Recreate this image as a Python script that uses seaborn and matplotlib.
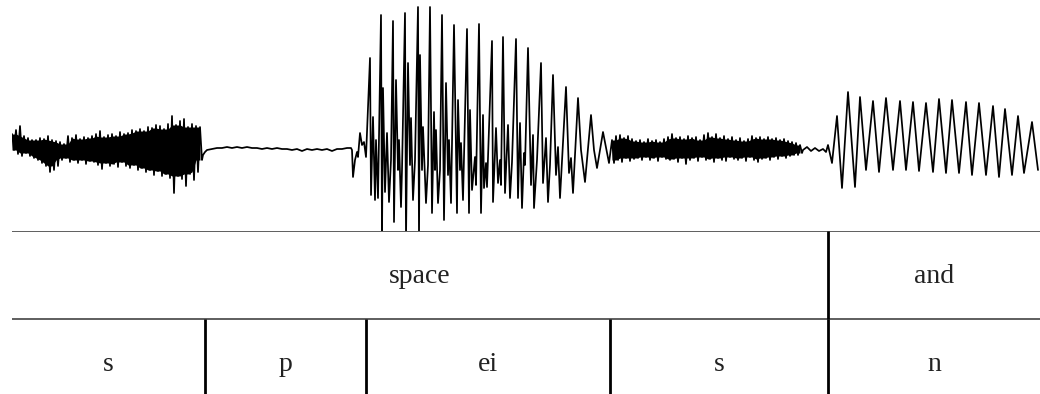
import numpy as np
import pandas as pd
import matplotlib
matplotlib.use('Agg')
import matplotlib.pyplot as plt
import seaborn as sns

# ─────────────────────────────────────────────
# DATA  (time in ms, amplitude in arbitrary units)
# ─────────────────────────────────────────────
WORDS       = ['space', 'and']
WORD_BOUNDS = [0, 816, 1028]
PHONES       = ['s', 'p', 'ei', 's', 'n']
PHONE_BOUNDS = [0, 193, 354, 598, 816, 1028]

# frication of first /s/ : upper / lower excursions every 4 ms
S1_HI = [15, 19, 23, 13, 11, 9, 9, 11, 10, 13, 9, 8, 7, 5, 13, 11, 14, 10, 12, 11,
         13, 15, 18, 12, 14, 15, 13, 17, 15, 16, 19, 18, 20, 18, 22, 21, 24, 23, 20, 25,
         33, 24, 28, 30, 22, 25, 23, 22]
S1_LO = [-1, -5, -7, -4, -7, -9, -11, -14, -17, -23, -21, -17, -11, -9, -13, -11, -14, -11, -15, -12,
         -13, -16, -20, -14, -17, -15, -18, -13, -17, -19, -16, -21, -19, -23, -21, -26, -22, -27, -25, -29,
         -44, -27, -30, -37, -25, -31, -23, -11]

# closure of /p/
P_T   = [191, 193, 195, 200, 205, 210, 215, 220, 225, 230, 235, 240, 245, 250, 255, 260,
         265, 270, 275, 280, 285, 290, 295, 300, 305, 310, 315, 320, 325, 330, 335, 339]
P_AMP = [-6, -3, -1, 0, 1, 1, 2, 1, 2, 1, 2, 1, 1, 0, 1, 0,
         1, 0, 0, -1, 0, -2, 0, -1, 0, -1, 0, -2, 0, 0, 1, 1]

# burst + vowel /ei/
EI_T = [340, 341, 343, 345, 346, 348, 350, 352, 354, 358, 359, 361, 363, 364, 366, 369,
        370, 371, 373, 375, 377, 379, 381,
        382, 384, 386, 387, 389, 390, 393,
        394, 396, 398, 399, 401, 403, 406,
        407, 408, 410, 411, 414, 416, 418,
        420, 422, 423, 424, 426, 428, 430,
        432, 434, 436, 437, 439, 442,
        445, 446, 448, 449, 451, 455,
        457, 458, 460, 463, 464, 467,
        469, 471, 472, 474, 475, 480,
        481, 484, 486, 488, 489, 491,
        493, 496, 498, 500, 504,
        506, 508, 510, 512, 513, 516,
        519, 521, 522, 525, 529,
        531, 534, 536, 538, 541,
        544, 546, 548, 554,
        557, 559, 561, 566,
        569, 573, 579,
        582, 585, 591, 597]
EI_AMP = [-1, -28, -11, -3, -8, 16, 4, 7, -8, 91, -46, 32, -51, 9, -49, 134,
          -91, 61, -43, 16, -53, -11, 128,
          -73, 69, -21, 9, -58, -21, 136,
          -91, 86, -16, 31, -51, -11, 142,
          -91, 94, -21, 22, -54, -16, 142,
          -64, 37, -21, 19, -54, -21, 134,
          -71, 66, -26, 9, -54, 124,
          -64, 49, -21, 6, -51, 120,
          -64, 39, -41, -8, -36, 125,
          -64, 34, -39, -14, -38, 108,
          -53, 21, -34, -11, -36, 112,
          -44, 24, -49, -13, 110,
          -49, 26, -59, -4, -16, 101,
          -36, 14, -59, -11, 86,
          -34, 11, -53, -16, 74,
          -26, 2, -49, 62,
          -24, -9, -44, 51,
          -1, -33, 34,
          -1, -19, 17, -14]

# frication of second /s/
S2_HI = [9, 13, 14, 11, 13, 10, 8, 9, 7, 10, 8, 9, 7, 10, 12, 15, 11, 12, 10, 13,
         11, 12, 9, 14, 16, 12, 15, 11, 13, 10, 12, 9, 11, 8, 10, 13, 11, 12, 10, 12,
         10, 11, 9, 10, 8, 7, 6, 4]
S2_LO = [-14, -11, -13, -9, -12, -10, -9, -11, -8, -11, -9, -12, -8, -10, -11, -10, -13, -9, -15, -11,
         -9, -12, -8, -11, -10, -13, -9, -11, -12, -8, -10, -11, -9, -12, -8, -11, -13, -10, -9, -11,
         -8, -10, -7, -9, -7, -6, -6, -4]

# nasal /n/
N_T   = [791, 795, 799, 803, 807, 811, 814, 816, 820, 825, 830, 836, 843, 848, 854, 861,
         867, 874, 881, 888, 894, 901, 907, 914, 921, 927, 934, 940, 947, 954, 960, 967,
         974, 981, 987, 993, 1000, 1006, 1012, 1020, 1026]
N_AMP = [-1, 2, -2, 1, -2, 0, -3, 4, -14, 33, -39, 57, -38, 52, -21, 48,
         -23, 51, -21, 48, -21, 47, -22, 46, -23, 50, -24, 49, -24, 47, -26, 46,
         -26, 43, -28, 40, -26, 33, -24, 27, -21]

S1_START, S2_START, NOISE_STEP = 0, 600, 4


def zigzag(hi, lo, start):
    t = start + NOISE_STEP * np.arange(len(hi))
    zt = np.column_stack([t, t + NOISE_STEP / 2]).ravel()
    za = np.column_stack([hi, lo]).ravel()
    return t, zt, za


def core(vals, fn):
    # inner envelope: the smallest excursion among each column and its neighbours
    v = np.asarray(vals, dtype=float)
    padded = np.concatenate([[v[0]], v, [v[-1]]])
    return fn(fn(padded[:-2], padded[1:-1]), padded[2:])


s1_env_t, s1_t, s1_a = zigzag(S1_HI, S1_LO, S1_START)
s2_env_t, s2_t, s2_a = zigzag(S2_HI, S2_LO, S2_START)

wave = pd.DataFrame({
    'time': np.concatenate([s1_t, P_T, EI_T, s2_t, N_T]),
    'amp':  np.concatenate([s1_a, P_AMP, EI_AMP, s2_a, N_AMP]),
})

# ─────────────────────────────────────────────
# FIGURE
# ─────────────────────────────────────────────
sns.set_style('white')
plt.rcParams['font.family'] = ['Liberation Serif', 'DejaVu Serif']

W, H = 1040, 394
fig = plt.figure(figsize=(W / 100, H / 100), dpi=100)

# waveform panel
ax_w = fig.add_axes([12 / W, 163 / H, 1028 / W, 231 / H])
# dense core of the fricatives
for env_t, hi, lo in ((s1_env_t, S1_HI, S1_LO), (s2_env_t, S2_HI, S2_LO)):
    ax_w.fill_between(env_t, core(lo, np.maximum), core(hi, np.minimum),
                      color='black', lw=0)
sns.lineplot(data=wave, x='time', y='amp', ax=ax_w, sort=False, estimator=None,
             color='black', linewidth=1.25)
ax_w.set_xlim(0, 1028)
ax_w.set_ylim(-82, 149)
ax_w.axis('off')

# annotation tiers (bottom tier runs off the canvas)
ax_t = fig.add_axes([12 / W, -13 / H, 1028 / W, 176 / H])
ax_t.set_xlim(0, 1028)
ax_t.set_ylim(0, 2)
ax_t.axis('off')
for y in (2, 1):
    ax_t.axhline(y, color='#333333', lw=1.1)
ax_t.vlines(WORD_BOUNDS[1:-1], 1, 2, color='black', lw=2.0)
ax_t.vlines(PHONE_BOUNDS[1:-1], 0, 1, color='black', lw=2.0)

for i, w in enumerate(WORDS):
    mid = (WORD_BOUNDS[i] + WORD_BOUNDS[i + 1]) / 2
    ax_t.text(mid, 1.41, w, ha='center', va='baseline', fontsize=20, color='#222222')
for i, p in enumerate(PHONES):
    mid = (PHONE_BOUNDS[i] + PHONE_BOUNDS[i + 1]) / 2
    ax_t.text(mid, 0.41, p, ha='center', va='baseline', fontsize=20, color='#222222')

fig.savefig('out.png', dpi=100)
